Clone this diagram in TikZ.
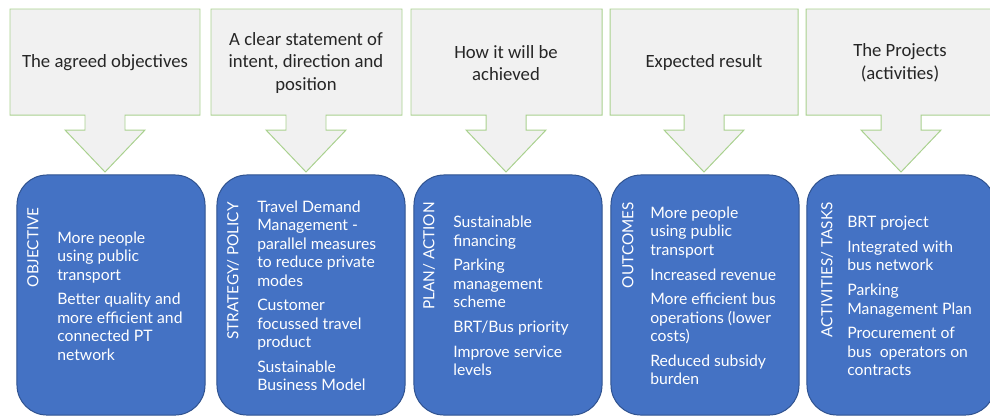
\documentclass[tikz,border=0pt]{standalone}
\usepackage{fontspec}
\setmainfont{Carlito}
\newfontfamily\boxfont{Lato}
\usepackage{xcolor}
\definecolor{callfill}{HTML}{F1F1F1}
\definecolor{callline}{HTML}{A9D18E}
\definecolor{headtext}{HTML}{262626}
\definecolor{boxfill}{HTML}{4472C4}
\definecolor{boxline}{HTML}{2F528F}

\begin{document}
\begin{tikzpicture}[x=0.025cm, y=-0.025cm,
  callout/.style={fill=callfill, draw=callline, line width=0.7pt},
  head/.style={text=headtext, font=\fontsize{13.3}{16.2}\selectfont, align=center},
  taskbox/.style={fill=boxfill, draw=boxline, line width=0.7pt, rounded corners=0.75cm,
    minimum width=4.7cm, minimum height=6cm, inner sep=0pt},
  tag/.style={text=white, font=\boxfont\fontsize{10.9}{13}\selectfont, rotate=90, anchor=east, inner sep=0pt},
  body/.style={text=white, font=\boxfont\fontsize{11.2}{13.1}\selectfont, align=left, anchor=west, inner sep=0pt}]
  \useasboundingbox (0,0) rectangle (990,417);
  % callouts with the arrow pointing down
  \draw[callout] (10,9) -- (200,9) -- (200,115) -- (125,115) -- (125,130) -- (145,130)
    -- (105,172) -- (65,130) -- (85,130) -- (85,115) -- (10,115) -- cycle;
  \draw[callout] (211,9) -- (402,9) -- (402,115) -- (326,115) -- (326,130) -- (346,130)
    -- (306,172) -- (266,130) -- (286,130) -- (286,115) -- (211,115) -- cycle;
  \draw[callout] (411,9) -- (602,9) -- (602,115) -- (526,115) -- (526,130) -- (546,130)
    -- (506,172) -- (466,130) -- (486,130) -- (486,115) -- (411,115) -- cycle;
  \draw[callout] (610,9) -- (798,9) -- (798,115) -- (724,115) -- (724,130) -- (744,130)
    -- (704,172) -- (664,130) -- (684,130) -- (684,115) -- (610,115) -- cycle;
  \draw[callout] (806,9) -- (996,9) -- (996,115) -- (921,115) -- (921,130) -- (941,130)
    -- (901,172) -- (861,130) -- (881,130) -- (881,115) -- (806,115) -- cycle;
  \node[head] (obj-head) at (105,63) {The agreed objectives};
  \node[head] (pol-head) at (306,63) {A clear statement of\\intent, direction and\\position};
  \node[head] (plan-head) at (506,63) {How it will be\\achieved};
  \node[head] (out-head) at (704,63) {Expected result};
  \node[head] (act-head) at (900,63) {The Projects\\(activities)};
  % blue boxes
  \node[taskbox] (obj) at (111,295) {};
  \node[taskbox] (pol) at (311,295) {};
  \node[taskbox] (plan) at (508,295) {};
  \node[taskbox] (out) at (705,295) {};
  \node[taskbox] (act) at (901,295) {};
  \node[tag] (obj-tag) at (33,207) {OBJECTIVE};
  \node[tag] (pol-tag) at (233,202) {STRATEGY/ POLICY};
  \node[tag] (plan-tag) at (429,202) {PLAN/ ACTION};
  \node[tag] (out-tag) at (628,202) {OUTCOMES};
  \node[tag] (act-tag) at (827,202) {ACTIVITIES/ TASKS};
  \node[body] (obj-text) at (57,296) {More people\\using public\\transport\\[4.5pt]
    Better quality and\\more efficient and\\connected PT\\network};
  \node[body] (pol-text) at (257,296) {Travel Demand\\Management -\\parallel measures\\to reduce private\\modes\\[4.5pt]
    Customer\\focussed travel\\product\\[4.5pt]Sustainable\\Business Model};
  \node[body] (plan-text) at (453,296) {Sustainable\\financing\\[4.5pt]Parking\\management\\scheme\\[4.5pt]
    BRT/Bus priority\\[4.5pt]Improve service\\levels};
  \node[body] (out-text) at (650,296) {More people\\using public\\transport\\[4.5pt]Increased revenue\\[4.5pt]
    More efficient bus\\operations (lower\\costs)\\[4.5pt]Reduced subsidy\\burden};
  \node[body] (act-text) at (847,296) {BRT project\\[4.5pt]Integrated with\\bus network\\[4.5pt]
    Parking\\Management Plan\\[4.5pt]Procurement of\\bus\ \ operators on\\contracts};
\end{tikzpicture}
\end{document}
